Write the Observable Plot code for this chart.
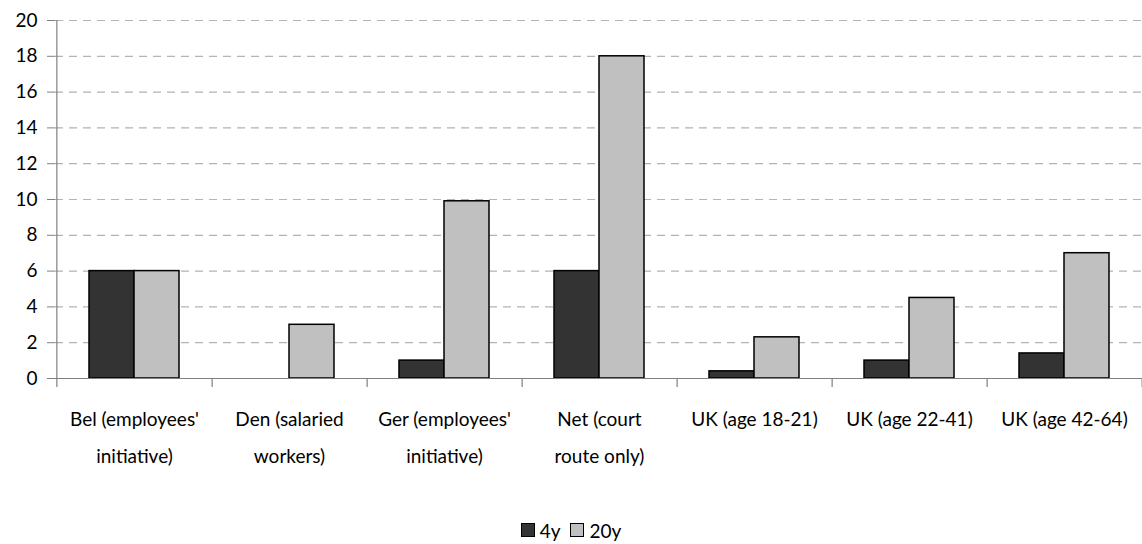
<!DOCTYPE html>
<html>
<head>
<meta charset="utf-8">
<script src="https://cdn.jsdelivr.net/npm/d3@7"></script>
<script src="https://cdn.jsdelivr.net/npm/@observablehq/plot@0.6"></script>
<style>
  html, body { margin: 0; padding: 0; background: #fff; }
  body { width: 1142px; height: 544px; overflow: hidden; font-family: Lato, "Open Sans", sans-serif; }
  #legend { height: 44px; display: flex; justify-content: center; align-items: center; padding-top: 16px; box-sizing: border-box; font-size: 19px; color: #000; }
  .sw { width: 14px; height: 14px; border: 1.5px solid #000; box-sizing: border-box; display: inline-block; margin-right: 5px; }
  .item { display: flex; align-items: center; margin: 0 5px; }
</style>
</head>
<body>
<div id="chart"></div>
<div id="legend"></div>
<script>
const categories = ["Bel", "Den", "Ger", "Net", "UK1", "UK2", "UK3"];
const tickLabels = [
  "Bel (employees'\ninitiative)",
  "Den (salaried\nworkers)",
  "Ger (employees'\ninitiative)",
  "Net (court\nroute only)",
  "UK (age 18-21)",
  "UK (age 22-41)",
  "UK (age 42-64)"
];
const series = ["4y", "20y"];
const values4y = [6, null, 1, 6, 0.4, 1, 1.4];
const values20y = [6, 3, 9.9, 18, 2.3, 4.5, 7];
const yTicks = [0, 2, 4, 6, 8, 10, 12, 14, 16, 18, 20];
const colors = {"4y": "#333333", "20y": "#c0c0c0"};

const rows = categories.map((c, i) => ({cat: c, label: tickLabels[i], v4: values4y[i], v20: values20y[i]}));

const W = 1142, H = 500, mL = 55, mR = 0, mT = 20, mB = 122;
const step = (W - mL - mR) / categories.length;
const font = "Lato, 'Open Sans', sans-serif";

const chart = Plot.plot({
  width: W, height: H,
  marginLeft: mL, marginRight: mR, marginTop: mT, marginBottom: mB,
  style: {fontFamily: font, fontSize: "19px", color: "#000", background: "#fff"},
  x: {domain: categories, paddingInner: 0.42, paddingOuter: 0.21, axis: null},
  y: {domain: [0, 20], axis: null},
  marks: [
    Plot.gridY(yTicks.filter(d => d > 0), {stroke: "#b3b3b3", strokeOpacity: 1, strokeWidth: 1.2, strokeDasharray: "8,6"}),
    Plot.axisY(yTicks, {tickSize: 8, tickPadding: 10, stroke: "#808080", fontSize: 19, label: null, tickFormat: d => String(d)}),
    Plot.barY(rows.filter(d => d.v4 != null), {x: "cat", y: "v4", fill: colors["4y"], stroke: "#000", strokeWidth: 1.5, insetRight: 45}),
    Plot.barY(rows, {x: "cat", y: "v20", fill: colors["20y"], stroke: "#000", strokeWidth: 1.5, insetLeft: 45}),
    Plot.ruleY([0], {stroke: "#808080", strokeWidth: 1.2}),
    Plot.ruleX([categories[0]], {x: d => d, dx: -step / 2, y1: -0.5, y2: 20, stroke: "#808080", strokeWidth: 1.2}),
    Plot.ruleX(categories, {x: d => d, dx: step / 2, y1: -0.5, y2: 0, stroke: "#808080", strokeWidth: 1.2}),
    Plot.text(rows, {x: "cat", y: 0, text: "label", dy: 21, lineAnchor: "top", lineHeight: 1.95, fontSize: 19, fill: "#000"})
  ]
});
document.getElementById("chart").appendChild(chart);

const legend = document.getElementById("legend");
series.forEach(s => {
  const item = document.createElement("span");
  item.className = "item";
  const sw = document.createElement("span");
  sw.className = "sw";
  sw.style.background = colors[s];
  item.appendChild(sw);
  item.appendChild(document.createTextNode(s));
  legend.appendChild(item);
});
</script>
</body>
</html>
